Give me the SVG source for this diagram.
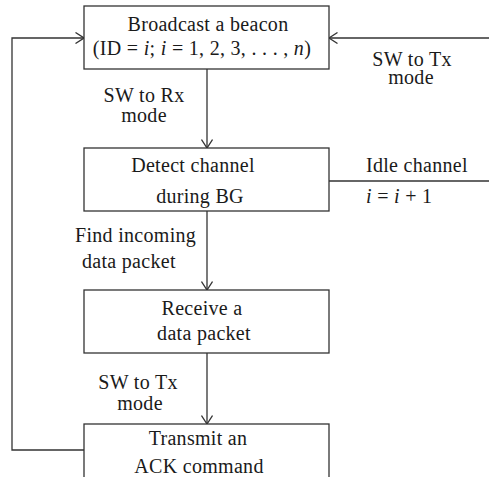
<svg xmlns="http://www.w3.org/2000/svg" width="489" height="477" viewBox="0 0 489 477">
  <style>
    .box { fill: #ffffff; stroke: #333333; stroke-width: 1.3; }
    .wire { fill: none; stroke: #333333; stroke-width: 1.3; }
    text { font-family: "Liberation Serif", "Times New Roman", serif; font-size: 20px; letter-spacing: 0.3px; fill: #1a1a1a; }
    .mid { text-anchor: middle; }
    .it { font-style: italic; }
  </style>
  <defs>
    <marker id="vee" viewBox="0 0 10 12" refX="9.5" refY="6" markerWidth="10" markerHeight="12" markerUnits="userSpaceOnUse" orient="auto">
      <path d="M1,0.5 L9.5,6 L1,11.5" fill="none" stroke="#333333" stroke-width="1.3"/>
    </marker>
  </defs>
  <rect width="489" height="477" fill="#ffffff"/>

  <!-- connectors -->
  <g id="connectors">
    <path class="wire" d="M207,69 V148" marker-end="url(#vee)"/>
    <path class="wire" d="M207,211 V290" marker-end="url(#vee)"/>
    <path class="wire" d="M207,353 V424" marker-end="url(#vee)"/>
    <path class="wire" d="M84,450 H12 V38 H84" marker-end="url(#vee)"/>
    <path class="wire" d="M489,38 H329" marker-end="url(#vee)"/>
    <path class="wire" d="M329,181 H489"/>
  </g>

  <!-- edge labels -->
  <g id="labels">
    <text class="mid" x="144" y="102">SW to Rx</text>
    <text class="mid" x="144" y="122">mode</text>
    <text class="mid" x="412" y="66">SW to Tx</text>
    <text class="mid" x="411" y="84">mode</text>
    <text x="366" y="172">Idle channel</text>
    <text x="366" y="203"><tspan class="it">i</tspan> = <tspan class="it">i</tspan> + 1</text>
    <text x="75" y="242">Find incoming</text>
    <text x="82" y="268">data packet</text>
    <text class="mid" x="138" y="389">SW to Tx</text>
    <text class="mid" x="140" y="410">mode</text>
  </g>

  <g id="broadcast">
    <rect class="box" x="84" y="6" width="245" height="63"/>
    <text class="mid" x="208" y="31">Broadcast a beacon</text>
    <text class="mid" x="202" y="55">(ID = <tspan class="it">i</tspan>; <tspan class="it">i</tspan> = 1, 2, 3, . . . , <tspan class="it">n</tspan>)</text>
  </g>

  <g id="detect">
    <rect class="box" x="84" y="148" width="245" height="63"/>
    <text class="mid" x="193" y="172">Detect channel</text>
    <text class="mid" x="200" y="203">during BG</text>
  </g>

  <g id="receive">
    <rect class="box" x="84" y="290" width="245" height="63"/>
    <text class="mid" x="202" y="315">Receive a</text>
    <text class="mid" x="204" y="340">data packet</text>
  </g>

  <g id="transmit">
    <rect class="box" x="84" y="424" width="245" height="63"/>
    <text class="mid" x="198" y="445">Transmit an</text>
    <text class="mid" x="199" y="473">ACK command</text>
  </g>
</svg>
